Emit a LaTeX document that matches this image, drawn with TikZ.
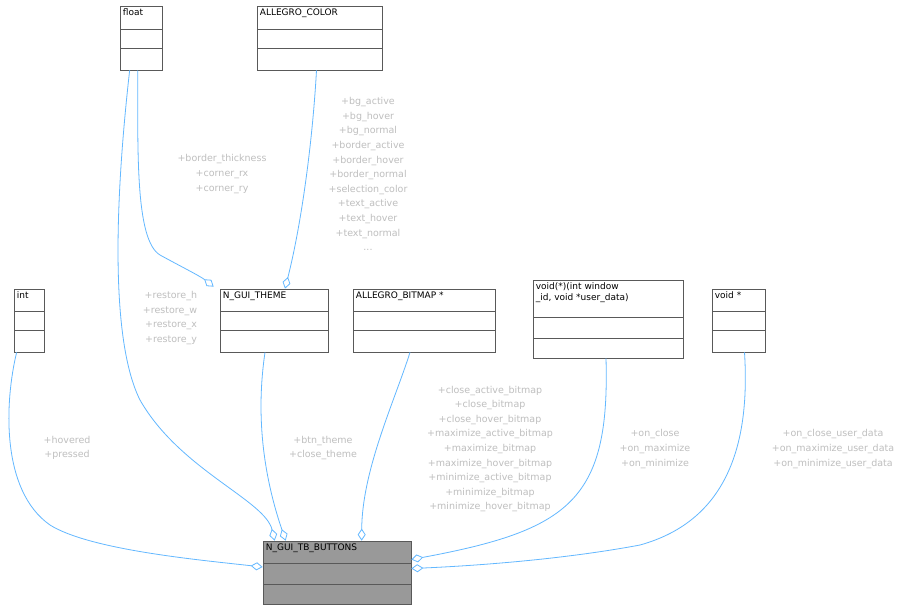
\documentclass[tikz,border=0pt]{standalone}
\usepackage{fontspec}
\setmainfont{DejaVu Sans}
\usetikzlibrary{arrows.meta,calc}
\definecolor{edge}{HTML}{63B8FF}
\definecolor{lbl}{HTML}{BFBFBF}
\begin{document}
\begin{tikzpicture}[x=1pt,y=-1pt,
 cls/.style={draw=black!65,fill=white,line width=0.7pt,rectangle,inner sep=0},
 ttl/.style={anchor=north west,inner sep=3pt,font=\fontsize{9}{11}\selectfont,align=left},
 lab/.style={text=lbl,font=\fontsize{9.5}{14.6}\selectfont,align=center,inner sep=0},
 ed/.style={draw=edge,line width=0.8pt,-{Diamond[open,fill=white,length=12,width=8]}}]
\fill[white] (0,0) rectangle (923,611);
\useasboundingbox (0,0) rectangle (923,611);
% class boxes: name, left, top, right, bottom, sep1, sep2, title
\newcommand{\mkcls}[8]{%
 \node[cls,minimum width={#4-#2},minimum height={#5-#3}] (#1) at ({(#2+#4)/2},{(#3+#5)/2}) {};
 \draw[black!65,line width=0.7pt] (#2,#6) -- (#4,#6) (#2,#7) -- (#4,#7);
 \node[ttl] at (#1.north west) {#8};}
\mkcls{float}{120}{6}{162}{70}{29}{48}{float}
\mkcls{color}{257}{6}{382}{70}{29}{48}{ALLEGRO\_COLOR}
\mkcls{int}{14}{289}{44}{352}{311}{330}{int}
\mkcls{theme}{220}{289}{328}{352}{311}{330}{N\_GUI\_THEME}
\mkcls{bitmap}{353}{289}{495}{352}{311}{330}{ALLEGRO\_BITMAP *}
\mkcls{fn}{533}{280}{683}{358}{317}{338}{void(*)(int window\\\_id, void *user\_data)}
\mkcls{vp}{712}{289}{765}{352}{311}{330}{void *}
\node[cls,fill=black!40,minimum width=148,minimum height=63] (tb) at (337,572.5) {};
\draw[black!65,line width=0.7pt] (263,563) -- (411,563) (263,584) -- (411,584);
\node[ttl] at (tb.north west) {N\_GUI\_TB\_BUTTONS};
% edges
\draw[ed] ($(int.south west)+(3,0)$) .. controls (5,400) and (0,490) .. (50,525) .. controls (90,550) and (200,560) .. ($(tb.west)+(0,-5.5)$);
\draw[ed] ($(float.south west)+(10,0)$) .. controls (115,200) and (110,340) .. (140,400) .. controls (180,470) and (265,500) .. ($(tb.north west)+(12,0)$);
\draw[ed] ($(float.south west)+(18,0)$) .. controls (138,150) and (135,240) .. (160,255) .. controls (180,266) and (200,276) .. ($(theme.north west)+(-6,-2)$);
\draw[ed] ($(color.south)+(-3,0)$) .. controls (312,150) and (300,230) .. ($(theme.north)+(11,0)$);
\draw[ed] ($(theme.south)+(-9,0)$) .. controls (255,420) and (265,480) .. ($(tb.north west)+(23,0)$);
\draw[ed] ($(bitmap.south)+(-14,0)$) .. controls (395,400) and (362,470) .. ($(tb.north west)+(99,0)$);
\draw[ed] ($(fn.south)+(-2,0)$) .. controls (610,500) and (570,530) .. ($(tb.east)+(0,-13)$);
\draw[ed] ($(vp.south)+(6,0)$) .. controls (750,440) and (730,520) .. (640,545) .. controls (560,560) and (470,566) .. ($(tb.east)+(0,-4)$);
% labels
\node[lab] at (67,448) {+hovered\\+pressed};
\node[lab,align=right] at (170,318) {+restore\_h\\+restore\_w\\+restore\_x\\+restore\_y};
\node[lab] at (222,174) {+border\_thickness\\+corner\_rx\\+corner\_ry};
\node[lab] at (368,174) {+bg\_active\\+bg\_hover\\+bg\_normal\\+border\_active\\+border\_hover\\+border\_normal\\+selection\_color\\+text\_active\\+text\_hover\\+text\_normal\\...};
\node[lab] at (323,448) {+btn\_theme\\+close\_theme};
\node[lab] at (490,449) {+close\_active\_bitmap\\+close\_bitmap\\+close\_hover\_bitmap\\+maximize\_active\_bitmap\\+maximize\_bitmap\\+maximize\_hover\_bitmap\\+minimize\_active\_bitmap\\+minimize\_bitmap\\+minimize\_hover\_bitmap};
\node[lab] at (655,449) {+on\_close\\+on\_maximize\\+on\_minimize};
\node[lab] at (833,449) {+on\_close\_user\_data\\+on\_maximize\_user\_data\\+on\_minimize\_user\_data};
\end{tikzpicture}
\end{document}
